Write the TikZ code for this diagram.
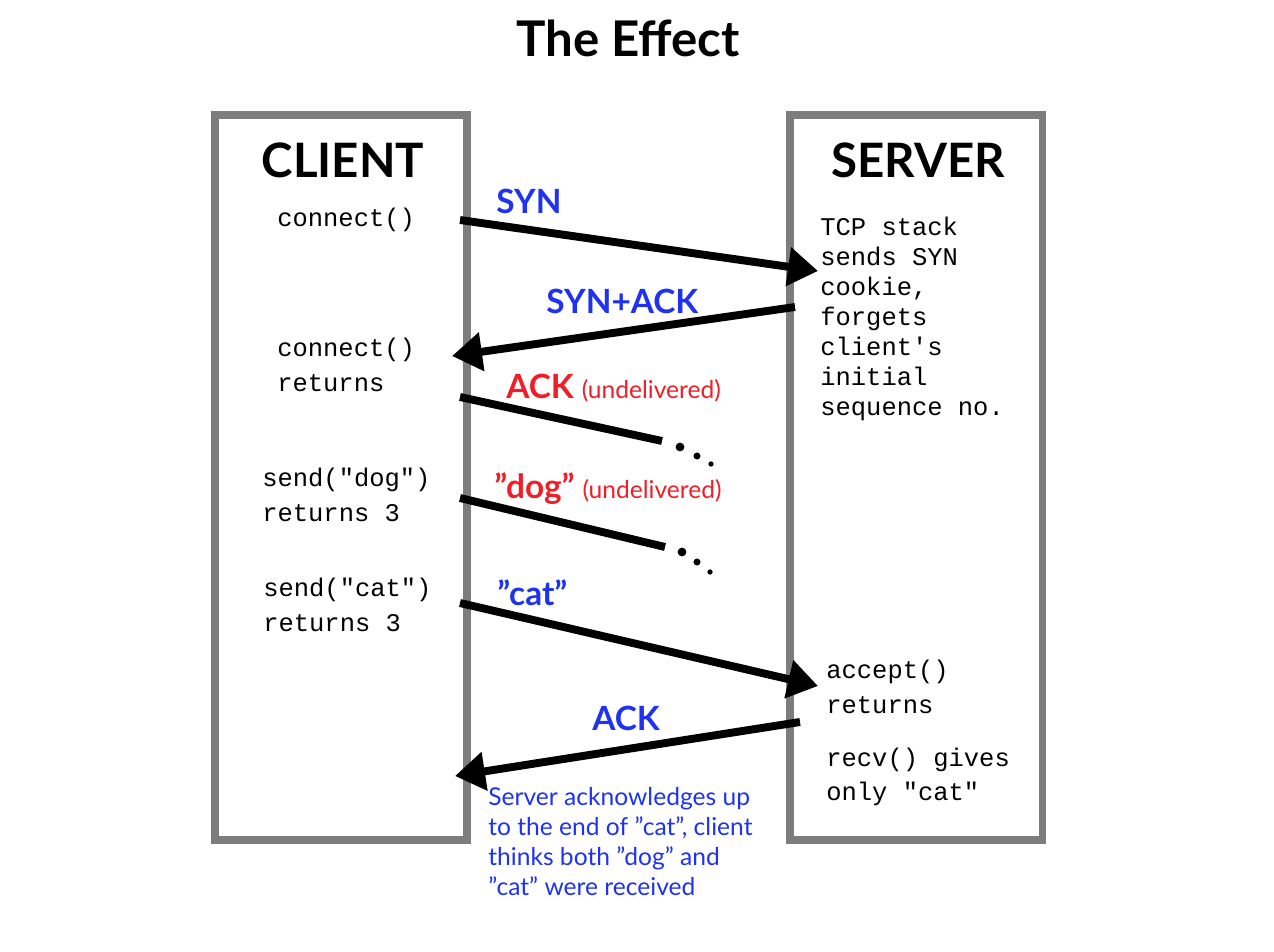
\documentclass[tikz,border=0pt]{standalone}
\usepackage{fontspec}
\setmainfont{Lato}
\newfontfamily\codefont{Liberation Mono}
\usetikzlibrary{arrows.meta}
\definecolor{msgblue}{RGB}{30,50,240}
\definecolor{msgred}{RGB}{240,30,40}
\definecolor{boxgray}{RGB}{125,125,125}
\newcommand{\dq}{{\char34}}
\newcommand{\notesize}{\fontsize{14}{17}\selectfont}
\tikzset{
    side/.style={draw=boxgray, line width=4pt},
    msg/.style={line width=4.5pt, -{Triangle[length=0.6cm,width=0.75cm]}},
    lost/.style={line width=4.5pt},
    dot/.style={fill, circle, inner sep=0pt},
    code/.style={anchor=west, align=left, font=\codefont\fontsize{14.5}{19.5}\selectfont, inner sep=0pt},
    lbl/.style={anchor=west, font=\bfseries\fontsize{19}{22}\selectfont, inner sep=0pt}
}
\begin{document}
\begin{tikzpicture}[x=0.02cm, y=-0.02cm]
    \useasboundingbox (0,0) rectangle (1274,952);
    \node[font=\bfseries\fontsize{28}{32}\selectfont] (title) at (628,38) {The Effect};
    % boxes
    \draw[side] (215,115) rectangle (467,840);
    \draw[side] (790,115) rectangle (1042,840);
    \node[font=\bfseries\fontsize{27}{30}\selectfont] (client) at (343,160) {CLIENT};
    \node[font=\bfseries\fontsize{27}{30}\selectfont] (server) at (918,160) {SERVER};
    % client side text
    \node[code] (c1) at (277,220) {connect()};
    \node[code] (c2) at (277,365) {connect()\\returns};
    \node[code] (c3) at (262,495) {send("dog")\\returns 3};
    \node[code] (c4) at (263,605) {send("cat")\\returns 3};
    % server side text
    \node[code, anchor=north west, font=\codefont\fontsize{14.5}{17}\selectfont] (s1) at (820,217)
        {TCP stack\\sends SYN\\cookie,\\forgets\\client's\\initial\\sequence no.};
    \node[code] (s2) at (826,687) {accept()\\returns};
    \node[code] (s3) at (826,777) {recv() gives\\only "cat"};
    % end points
    \coordinate (synA) at (460,220);  \coordinate (synB) at (818,271);
    \coordinate (saA) at (795,307);   \coordinate (saB) at (452,356);
    \coordinate (ackA) at (460,397);  \coordinate (ackB) at (662,441);
    \coordinate (dogA) at (460,498);  \coordinate (dogB) at (665,547);
    \coordinate (catA) at (460,603);  \coordinate (catB) at (818,686);
    \coordinate (finA) at (800,722);  \coordinate (finB) at (455,776);
    % messages
    \draw[msg] (synA) -- (synB);
    \draw[msg] (saA) -- (saB);
    \draw[lost] (ackA) -- (ackB);
    \draw[lost] (dogA) -- (dogB);
    \draw[msg] (catA) -- (catB);
    \draw[msg] (finA) -- (finB);
    \foreach \x/\y/\r in {680/447/5pt, 697/456/4pt, 711/464/3pt}
        \node[dot, minimum size=\r] at (\x,\y) {};
    \foreach \x/\y/\r in {682/552/5pt, 697/562/4pt, 710/572/3pt}
        \node[dot, minimum size=\r] at (\x,\y) {};
    % labels
    \node[lbl, text=msgblue] (l1) at (496,201) {SYN};
    \node[lbl, text=msgblue] (l2) at (546,301) {SYN+ACK};
    \node[lbl, text=msgred] (l3) at (506,388) {ACK {\mdseries\notesize (undelivered)}};
    \node[lbl, text=msgred] (l4) at (494,489) {\dq dog\dq{} {\mdseries\notesize (undelivered)}};
    \node[lbl, text=msgblue] (l5) at (497,593) {\dq cat\dq};
    \node[lbl, text=msgblue] (l6) at (592,718) {ACK};
    \node[anchor=north west, align=left, text=msgblue, font=\notesize, inner sep=0pt] (note) at (488,787)
        {Server acknowledges up\\to the end of \dq cat\dq, client\\thinks both \dq dog\dq{} and\\\dq cat\dq{} were received};
\end{tikzpicture}
\end{document}
